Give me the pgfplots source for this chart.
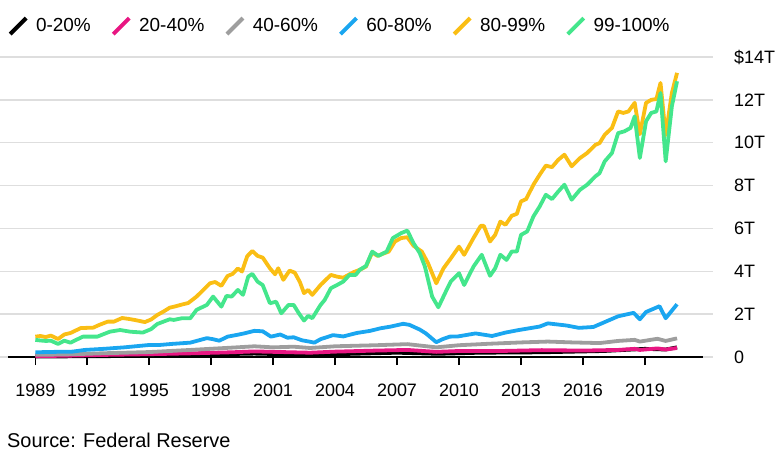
\documentclass[border=0pt]{standalone}
\usepackage{fontspec}
\setmainfont{Liberation Sans}
\usepackage{pgfplots}
\pgfplotsset{compat=1.18}
\definecolor{cblack}{RGB}{0,0,0}
\definecolor{cpink}{RGB}{232,22,130}
\definecolor{cgray}{RGB}{158,158,158}
\definecolor{cblue}{RGB}{26,166,240}
\definecolor{cyellow}{RGB}{250,190,20}
\definecolor{cgreen}{RGB}{68,230,140}
\definecolor{gridc}{RGB}{222,222,222}
\begin{document}
\begin{tikzpicture}
\useasboundingbox (0,0) rectangle (780bp,454bp);
\begin{axis}[
  at={(0bp,97bp)}, anchor=south west,
  scale only axis, width=713bp, height=300bp,
  xmin=1987.79, xmax=2022.29, ymin=0, ymax=14,
  clip=false,
  axis line style={draw=none},
  ymajorgrids, grid style={gridc, line width=1.3bp},
  ytick={0,2,4,6,8,10,12,14},
  yticklabels={0,2T,4T,6T,8T,10T,12T,\$14T},
  yticklabel pos=right,
  ytick style={draw=none},
  yticklabel style={anchor=west, inner sep=0pt, xshift=13bp, font=\fontsize{18}{18}\selectfont},
  xtick={1989.5,1992,1995,1998,2001,2004,2007,2010,2013,2016,2019},
  xticklabels={1989,1992,1995,1998,2001,2004,2007,2010,2013,2016,2019},
  xtick pos=bottom,
  tick align=outside,
  major tick length=8bp,
  xtick style={black, line width=1.2bp},
  xticklabel style={anchor=north, inner sep=0pt, yshift=-19bp, font=\fontsize{18}{18}\selectfont},
  legend columns=6,
  legend style={at={(0.0112,1.103)}, anchor=west, draw=none, fill=none, inner sep=0pt,
    font=\fontsize{19}{19}\selectfont,
    /tikz/every even column/.append style={column sep=18.5bp}},
  legend image code/.code={\draw[#1, line width=4bp, line cap=butt] (0bp,-8bp) -- (16bp,8bp); \path (22bp,0bp);},
  every axis plot/.append style={line width=3.8bp, line join=round, mark=none},
]
\draw[black, line width=1.2bp] (axis cs:1988.18,0) -- (axis cs:2021.8,0);

\addplot[cblack] coordinates {
(1989.5,0.02) (1991,0.03) (1993,0.04) (1996,0.08) (1999,0.14) (2000.1,0.16) (2002,0.12)
(2004,0.13) (2007,0.2) (2009,0.15) (2011,0.2) (2014,0.22) (2017,0.28) (2019,0.38)
(2020,0.35) (2020.55,0.45)};
\addlegendentry{0-20\%}

\addplot[cpink] coordinates {
(1989.5,0.04) (1991,0.06) (1993,0.1) (1995,0.13) (1997,0.17) (1999,0.22) (2000.1,0.26)
(2001,0.24) (2002.8,0.2) (2004,0.25) (2006,0.3) (2007.5,0.33) (2008.9,0.24) (2010,0.28)
(2012,0.28) (2014,0.32) (2016,0.3) (2017.7,0.33) (2018.5,0.38) (2018.75,0.33) (2019.6,0.4)
(2020,0.35) (2020.55,0.42)};
\addlegendentry{20-40\%}

\addplot[cgray] coordinates {
(1989.5,0.1) (1991,0.12) (1993,0.18) (1995,0.23) (1997,0.33) (1999.25,0.45) (2000.1,0.5)
(2001,0.45) (2002,0.48) (2002.8,0.42) (2004,0.5) (2006,0.55) (2007.5,0.6) (2008.9,0.45)
(2010,0.55) (2011.5,0.62) (2013,0.68) (2014.3,0.72) (2015.5,0.68) (2016.8,0.65) (2017.7,0.75)
(2018.5,0.8) (2018.75,0.72) (2019.6,0.85) (2020,0.75) (2020.55,0.87)};
\addlegendentry{40-60\%}

\addplot[cblue] coordinates {
(1989.5,0.22) (1990.5,0.24) (1991.3,0.25) (1991.9,0.33) (1992.8,0.38) (1993.8,0.45)
(1995,0.56) (1995.5,0.56) (1996.1,0.61) (1997,0.67) (1997.8,0.88) (1998.1,0.83) (1998.4,0.76)
(1998.8,0.95) (1999.25,1.03) (1999.6,1.1) (2000.1,1.22) (2000.5,1.2) (2000.9,0.95)
(2001.35,1.05) (2001.7,0.9) (2002,0.92) (2002.4,0.78) (2002.8,0.71) (2003,0.67) (2003.3,0.83)
(2003.9,1.02) (2004.4,0.96) (2005.05,1.12) (2005.7,1.22) (2006.2,1.34) (2006.7,1.42)
(2007.3,1.55) (2007.6,1.5) (2008.1,1.28) (2008.4,1.1) (2008.9,0.69) (2009.2,0.83)
(2009.55,0.95) (2009.95,0.96) (2010.8,1.1) (2011.6,0.98) (2012.25,1.14) (2012.9,1.26)
(2013.9,1.42) (2014.3,1.57) (2015.2,1.47) (2015.8,1.36) (2016.5,1.4) (2017.1,1.65)
(2017.7,1.9) (2018.45,2.06) (2018.75,1.76) (2019.05,2.1) (2019.7,2.37) (2020,1.81)
(2020.55,2.46)};
\addlegendentry{60-80\%}

\addplot[cyellow] coordinates {
(1989.5,0.95) (1989.75,0.98) (1990,0.93) (1990.25,1.0) (1990.6,0.84) (1990.9,1.05)
(1991.2,1.12) (1991.7,1.35) (1992,1.36) (1992.3,1.37) (1992.6,1.5) (1993,1.65) (1993.3,1.65)
(1993.7,1.82) (1994,1.78) (1994.3,1.73) (1994.8,1.63) (1995.1,1.75) (1995.4,1.96)
(1995.7,2.12) (1996,2.3) (1996.3,2.37) (1996.6,2.45) (1996.9,2.52) (1997.3,2.82)
(1997.6,3.1) (1997.95,3.44) (1998.2,3.5) (1998.5,3.32) (1998.8,3.78) (1999.05,3.88)
(1999.3,4.13) (1999.5,3.99) (1999.75,4.7) (2000,4.95) (2000.25,4.72) (2000.5,4.64)
(2000.85,4.14) (2001.1,3.86) (2001.25,4.14) (2001.5,3.6) (2001.8,4.03) (2002.05,3.94)
(2002.3,3.5) (2002.5,2.98) (2002.7,3.13) (2002.9,2.9) (2003.3,3.36) (2003.5,3.55)
(2003.8,3.83) (2004.1,3.75) (2004.4,3.7) (2004.9,3.96) (2005.2,4.07) (2005.5,4.22)
(2005.8,4.88) (2006.05,4.72) (2006.6,4.92) (2006.9,5.39) (2007.2,5.55) (2007.5,5.59)
(2007.8,5.19) (2008.2,4.92) (2008.5,4.38) (2008.9,3.44) (2009.25,4.14) (2009.6,4.6)
(2010,5.15) (2010.25,4.77) (2010.7,5.55) (2011.05,6.12) (2011.2,6.12) (2011.5,5.39)
(2011.75,5.7) (2012,6.32) (2012.25,6.17) (2012.55,6.59) (2012.8,6.68) (2013,7.26)
(2013.25,7.37) (2013.6,8.04) (2013.9,8.5) (2014.2,8.93) (2014.5,8.86) (2014.8,9.2)
(2015.1,9.44) (2015.45,8.9) (2015.85,9.28) (2016.2,9.52) (2016.6,9.9) (2016.8,9.98)
(2017.05,10.37) (2017.4,10.69) (2017.7,11.46) (2017.95,11.39) (2018.2,11.46) (2018.5,11.86)
(2018.75,10.4) (2019.05,11.86) (2019.3,12.0) (2019.55,12.04) (2019.75,12.79) (2020,10.35)
(2020.3,12.32) (2020.55,13.26)};
\addlegendentry{80-99\%}

\addplot[cgreen] coordinates {
(1989.5,0.8) (1989.75,0.77) (1990,0.75) (1990.25,0.76) (1990.6,0.61) (1990.9,0.76)
(1991.2,0.67) (1991.8,0.95) (1992.2,0.95) (1992.5,0.95) (1993.1,1.18) (1993.6,1.26)
(1994.1,1.18) (1994.7,1.14) (1995.1,1.3) (1995.4,1.54) (1995.7,1.65) (1996,1.76)
(1996.2,1.73) (1996.6,1.81) (1997,1.81) (1997.3,2.2) (1997.8,2.43) (1998.1,2.82)
(1998.5,2.35) (1998.75,2.85) (1999,2.82) (1999.3,3.13) (1999.55,2.9) (1999.8,3.75)
(2000,3.88) (2000.25,3.52) (2000.5,3.36) (2000.85,2.51) (2001.15,2.58) (2001.4,2.04)
(2001.75,2.43) (2002,2.43) (2002.25,2.04) (2002.5,1.7) (2002.7,1.92) (2002.9,1.81)
(2003.3,2.43) (2003.5,2.66) (2003.8,3.21) (2004.1,3.36) (2004.4,3.52) (2004.7,3.83)
(2005,3.83) (2005.2,4.07) (2005.5,4.25) (2005.8,4.92) (2006.1,4.72) (2006.5,4.92)
(2006.8,5.55) (2007.2,5.78) (2007.5,5.9) (2007.8,5.31) (2008.1,4.85) (2008.35,4.22)
(2008.7,2.82) (2009,2.32) (2009.4,3.13) (2009.6,3.52) (2010,3.91) (2010.25,3.36)
(2010.7,4.22) (2011.1,4.77) (2011.5,3.79) (2011.75,4.14) (2012,4.77) (2012.3,4.53)
(2012.55,4.92) (2012.8,4.92) (2013,5.7) (2013.3,5.86) (2013.6,6.56) (2013.9,7.02)
(2014.2,7.57) (2014.5,7.37) (2014.8,7.72) (2015.1,8.04) (2015.45,7.34) (2015.85,7.8)
(2016.2,8.04) (2016.6,8.43) (2016.8,8.58) (2017.05,9.13) (2017.4,9.52) (2017.7,10.45)
(2018,10.53) (2018.3,10.69) (2018.5,11.23) (2018.75,9.29) (2019.05,11.0) (2019.3,11.39)
(2019.55,11.46) (2019.75,12.32) (2020,9.13) (2020.3,11.7) (2020.55,12.87)};
\addlegendentry{99-100\%}
\end{axis}
\node[anchor=base west, inner sep=0pt, font=\fontsize{20}{20}\selectfont] at (7bp,7bp) {Source: Federal Reserve};
\end{tikzpicture}
\end{document}
